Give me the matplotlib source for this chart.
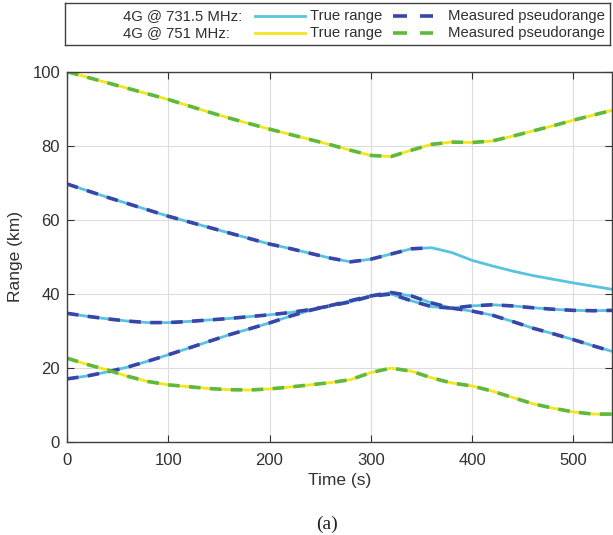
import matplotlib
matplotlib.use("Agg")
import matplotlib.pyplot as plt

# Time axis (s)
time_s = [0, 20, 40, 60, 80, 100, 120, 140, 160, 180, 200, 220, 240, 260,
          280, 300, 320, 340, 360, 380, 400, 420, 440, 460, 480, 500, 520, 540]

# 4G @ 731.5 MHz, three transmitters (km)
band1_a = [69.7, 67.9, 66.1, 64.4, 62.7, 61.0, 59.5, 58.0, 56.5, 55.0, 53.5, 52.3, 51.0, 49.7,
           48.7, 49.4, 50.8, 52.2, 52.5, 51.2, 49.1, 47.6, 46.2, 45.0, 44.0, 43.0, 42.1, 41.2]
band1_b = [34.8, 34.0, 33.3, 32.7, 32.3, 32.3, 32.6, 33.0, 33.4, 33.9, 34.4, 35.0, 35.8, 36.8,
           37.9, 39.4, 40.0, 38.2, 36.6, 36.2, 36.8, 37.1, 36.8, 36.3, 35.9, 35.6, 35.5, 35.6]
band1_c = [17.1, 17.9, 19.0, 20.3, 21.9, 23.6, 25.4, 27.2, 29.0, 30.6, 32.2, 34.0, 35.6, 36.9,
           38.2, 39.5, 40.4, 39.5, 37.6, 36.2, 35.4, 34.3, 32.6, 30.8, 29.3, 27.7, 26.0, 24.4]
# measured pseudorange for band1_a stops at 360 s
band1_a_meas_end = 19

# 4G @ 751 MHz (km)
band2_a = [100.0, 98.5, 97.0, 95.5, 94.0, 92.5, 90.8, 89.1, 87.5, 86.0, 84.5, 83.1, 81.7, 80.3,
           78.8, 77.4, 77.1, 78.8, 80.4, 81.0, 80.9, 81.3, 82.6, 84.0, 85.4, 86.9, 88.3, 89.7]
band2_b = [22.7, 21.0, 19.5, 17.8, 16.4, 15.5, 15.0, 14.5, 14.2, 14.1, 14.4, 14.9, 15.5, 16.1,
           16.9, 18.8, 20.0, 19.2, 17.4, 16.0, 15.2, 13.8, 12.1, 10.4, 9.2, 8.2, 7.6, 7.6]

x_ticks = [0, 100, 200, 300, 400, 500]
y_ticks = [0, 20, 40, 60, 80, 100]

cyan = "#58C3DE"
dark_blue = "#3A45A8"
yellow = "#F3E51E"
green = "#5FB83F"
txt = "#303030"

plt.rcParams["font.family"] = ["Liberation Sans", "DejaVu Sans"]

fig = plt.figure(figsize=(6.13, 5.35), dpi=100)
ax = fig.add_axes([0.1093, 0.1733, 0.8887, 0.6927])

dash = (3.2, 2.6)
for true_vals in [band1_a, band1_b, band1_c]:
    ax.plot(time_s, true_vals, color=cyan, lw=2.0)
for true_vals in [band2_a, band2_b]:
    ax.plot(time_s, true_vals, color=yellow, lw=2.0)

ax.plot(time_s[:band1_a_meas_end], band1_a[:band1_a_meas_end], color=dark_blue, lw=2.6, dashes=dash)
for meas in [band1_b, band1_c]:
    ax.plot(time_s, meas, color=dark_blue, lw=2.6, dashes=dash)
for meas in [band2_a, band2_b]:
    ax.plot(time_s, meas, color=green, lw=2.6, dashes=dash)

ax.set_xlim(0, 538)
ax.set_ylim(0, 100)
ax.set_xticks(x_ticks)
ax.set_yticks(y_ticks)
ax.grid(True, color="#dcdcdc", lw=0.8)
ax.set_axisbelow(True)
ax.tick_params(direction="in", length=5, width=0.8, top=True, right=True,
               labelsize=12, colors=txt)
ax.tick_params(axis="x", pad=8)
ax.tick_params(axis="y", pad=5)
for s in ax.spines.values():
    s.set_color("#404040")
    s.set_linewidth(1.0)
ax.set_xlabel("Time (s)", fontsize=12.5, color=txt, labelpad=3)
ax.set_ylabel("Range (km)", fontsize=12.5, color=txt, labelpad=7)

fig.text(0.534, 1 - 524 / 535, "(a)", family=["Liberation Serif", "DejaVu Serif"],
         fontsize=14, ha="center", va="center", color="#202020")

# legend drawn by hand (pixel-like coordinates inside its own axes)
lg = fig.add_axes([65 / 613, 1 - 45 / 535, 545 / 613, 42 / 535])
lg.set_xlim(65, 610)
lg.set_ylim(45, 3)
lg.set_xticks([])
lg.set_yticks([])
for s in lg.spines.values():
    s.set_color("#404040")
    s.set_linewidth(1.0)

rows = [("4G @ 731.5 MHz:", cyan, dark_blue, 16), ("4G @ 751 MHz:", yellow, green, 33)]
for label, c_true, c_meas, y in rows:
    lg.text(123, y, label, fontsize=10.7, va="center", ha="left", color=txt)
    lg.plot([255, 305], [y, y], color=c_true, lw=2.0)
    lg.text(310, y, "True range", fontsize=10.7, va="center", ha="left", color=txt)
    lg.plot([393, 407], [y, y], color=c_meas, lw=2.6, solid_capstyle="butt")
    lg.plot([420, 433], [y, y], color=c_meas, lw=2.6, solid_capstyle="butt")
    lg.text(448, y, "Measured pseudorange", fontsize=10.7, va="center", ha="left", color=txt)

fig.savefig("out.png", dpi=100)
